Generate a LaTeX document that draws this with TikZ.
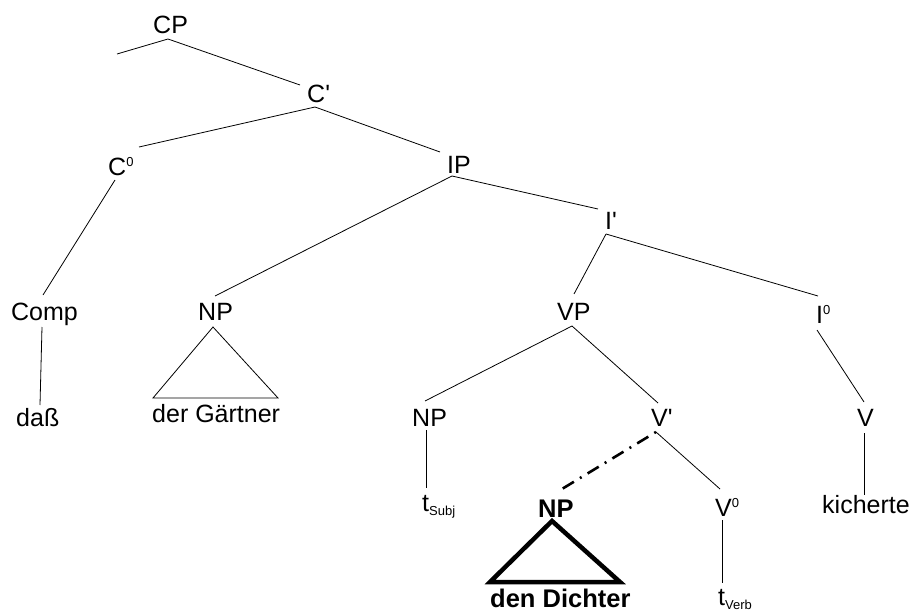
\documentclass[tikz,border=0pt]{standalone}
\usepackage{fontspec}
\setmainfont{Liberation Sans}
\newcommand{\supz}[1]{\raisebox{8.5pt}{\fontsize{13}{13}\selectfont #1}}
\newcommand{\subz}[1]{\raisebox{-4.5pt}{\fontsize{13}{13}\selectfont #1}}
\newcommand{\pr}{\textquotesingle}
\begin{document}
\begin{tikzpicture}[x=1pt,y=-1pt,
  lbl/.style={anchor=base west,inner sep=0pt,font=\fontsize{25}{29}\selectfont},
  blbl/.style={lbl,font=\fontsize{25.5}{29}\selectfont\bfseries},
  edge/.style={line width=0.8pt},
  thick tri/.style={line width=4.5pt,line join=miter},
  dashdot/.style={line width=2.6pt,dash pattern=on 2pt off 7pt on 13pt off 7pt}]
\useasboundingbox (0,0) rectangle (913,613);
% labels
\node[lbl] (CP) at (153,33) {CP};
\node[lbl] (Cbar) at (307,102) {C\pr};
\node[lbl] (C0) at (108,175) {C\supz{0}};
\node[lbl] (IP) at (447,173) {IP};
\node[lbl] (Ibar) at (605,229) {I\pr};
\node[lbl] (Comp) at (11,320) {Comp};
\node[lbl] (NPL) at (198,320) {NP};
\node[lbl] (VP) at (557,320) {VP};
\node[lbl] (I0) at (816,323) {I\supz{0}};
\node[lbl] (dass) at (16,426) {daß};
\node[lbl] (gaertner) at (152,422) {der Gärtner};
\node[lbl] (NPM) at (412,426) {NP};
\node[lbl] (Vbar) at (651,426) {V\pr};
\node[lbl] (V) at (857,426) {V};
\node[lbl] (tS) at (422,511) {t\subz{Subj}};
\node[blbl] (NPB) at (538,517) {NP};
\node[lbl] (V0) at (715,516) {V\supz{0}};
\node[lbl] (kich) at (822,513) {kicherte};
\node[blbl] (dichter) at (490,607) {den Dichter};
\node[lbl] (tV) at (718,605) {t\subz{Verb}};
% connector end points
\coordinate (CPl) at (117,54);
\coordinate (CPb) at (168,39);
\coordinate (Cbart) at (300,85);
\coordinate (Cbarb) at (315,107);
\coordinate (C0t) at (139,147);
\coordinate (C0b) at (115,180);
\coordinate (IPt) at (440,152);
\coordinate (IPb) at (452,176);
\coordinate (NPLt) at (215,296);
\coordinate (NPLb) at (213,327);
\coordinate (NPLl) at (153,398);
\coordinate (NPLr) at (278,398);
\coordinate (Ibart) at (598,209);
\coordinate (Ibarb) at (606,234);
\coordinate (VPt) at (574,294);
\coordinate (VPb) at (572,326);
\coordinate (I0t) at (818,296);
\coordinate (I0b) at (817,330);
\coordinate (Compt) at (43,295);
\coordinate (Compb) at (42,327);
\coordinate (dasst) at (40,405);
\coordinate (NPMt) at (425,401);
\coordinate (NPMb) at (426,430);
\coordinate (tSt) at (426,488);
\coordinate (Vbart) at (658,403);
\coordinate (Vbarb) at (656,432);
\coordinate (NPBt) at (557,492);
\coordinate (NPBb) at (552,521);
\coordinate (NPBl) at (490,582);
\coordinate (NPBr) at (620,582);
\coordinate (V0t) at (720,489);
\coordinate (V0b) at (722,520);
\coordinate (tVt) at (722,583);
\coordinate (Vt) at (864,402);
\coordinate (Vb) at (864,433);
\coordinate (kicht) at (864,495);
% connectors
\draw[edge] (CPl) -- (CPb) -- (Cbart);
\draw[edge] (Cbarb) -- (C0t);
\draw[edge] (Cbarb) -- (IPt);
\draw[edge] (C0b) -- (Compt);
\draw[edge] (Compb) -- (dasst);
\draw[edge] (IPb) -- (NPLt);
\draw[edge] (IPb) -- (Ibart);
\draw[edge,line join=miter] (NPLb) -- (NPLl) -- (NPLr) -- cycle;
\draw[edge] (Ibarb) -- (VPt);
\draw[edge] (Ibarb) -- (I0t);
\draw[edge] (I0b) -- (Vt);
\draw[edge] (Vb) -- (kicht);
\draw[edge] (VPb) -- (NPMt);
\draw[edge] (VPb) -- (Vbart);
\draw[edge] (NPMb) -- (tSt);
\draw[dashdot] (Vbarb) -- (NPBt);
\draw[edge] (Vbarb) -- (V0t);
\draw[edge] (V0b) -- (tVt);
\draw[thick tri] (NPBb) -- (NPBl) -- (NPBr) -- cycle;
\end{tikzpicture}
\end{document}
